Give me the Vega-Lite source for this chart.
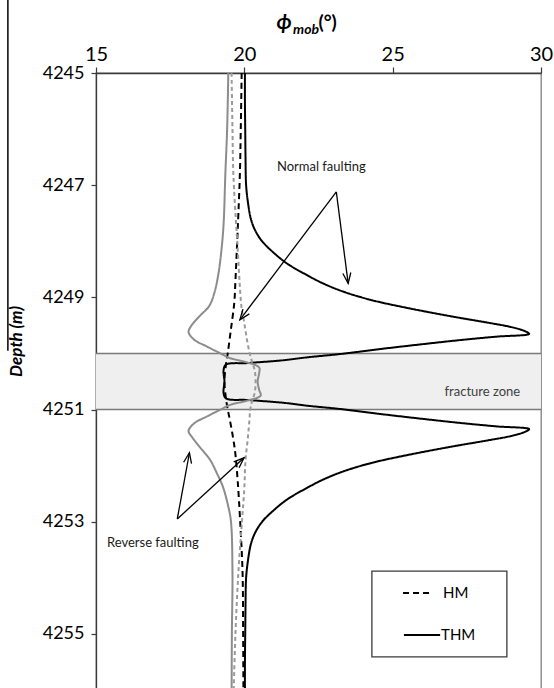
{
  "$schema": "https://vega.github.io/schema/vega-lite/v6.json",
  "autosize": {"type": "none"},
  "padding": {"left": 96, "top": 73, "right": 13, "bottom": 0},
  "width": 445,
  "height": 626,
  "background": "white",
  "config": {
    "font": "Lato",
    "view": {"stroke": "#7f7f7f", "strokeWidth": 1.3},
    "axis": {"grid": false}
  },
  "datasets": {
    "zone": [{"phi": 15, "phi2": 30, "depth": 4250, "depth2": 4251}],
    "zoneEdges": [{"phi": 15, "phi2": 30, "depth": 4250}, {"phi": 15, "phi2": 30, "depth": 4251}],
    "edge": [{"phi": 12.03, "depth": 4243.6, "depth2": 4249.95}],
    "profiles": [
      {"series": "THM-N", "depth": 4245, "phi": 20.02},
      {"series": "THM-N", "depth": 4245.5, "phi": 20.02},
      {"series": "THM-N", "depth": 4246, "phi": 20.03},
      {"series": "THM-N", "depth": 4246.5, "phi": 20.04},
      {"series": "THM-N", "depth": 4247, "phi": 20.06},
      {"series": "THM-N", "depth": 4247.3, "phi": 20.12},
      {"series": "THM-N", "depth": 4247.6, "phi": 20.22},
      {"series": "THM-N", "depth": 4247.8, "phi": 20.36},
      {"series": "THM-N", "depth": 4248, "phi": 20.6},
      {"series": "THM-N", "depth": 4248.2, "phi": 20.98},
      {"series": "THM-N", "depth": 4248.4, "phi": 21.45},
      {"series": "THM-N", "depth": 4248.6, "phi": 22.1},
      {"series": "THM-N", "depth": 4248.75, "phi": 22.65},
      {"series": "THM-N", "depth": 4248.9, "phi": 23.35},
      {"series": "THM-N", "depth": 4249.05, "phi": 24.3},
      {"series": "THM-N", "depth": 4249.2, "phi": 25.6},
      {"series": "THM-N", "depth": 4249.35, "phi": 27.1},
      {"series": "THM-N", "depth": 4249.45, "phi": 28.2},
      {"series": "THM-N", "depth": 4249.53, "phi": 29.0},
      {"series": "THM-N", "depth": 4249.6, "phi": 29.45},
      {"series": "THM-N", "depth": 4249.65, "phi": 29.6},
      {"series": "THM-N", "depth": 4249.7, "phi": 28.5},
      {"series": "THM-N", "depth": 4249.76, "phi": 27.3},
      {"series": "THM-N", "depth": 4249.83, "phi": 26.08},
      {"series": "THM-N", "depth": 4249.92, "phi": 24.6},
      {"series": "THM-N", "depth": 4250.01, "phi": 23.23},
      {"series": "THM-N", "depth": 4250.07, "phi": 22.1},
      {"series": "THM-N", "depth": 4250.12, "phi": 21.33},
      {"series": "THM-N", "depth": 4250.17, "phi": 20.14},
      {"series": "THM-N", "depth": 4250.2, "phi": 19.38},
      {"series": "THM-N", "depth": 4250.3, "phi": 19.3},
      {"series": "THM-N", "depth": 4250.5, "phi": 19.33},
      {"series": "THM-N", "depth": 4250.7, "phi": 19.3},
      {"series": "THM-N", "depth": 4250.8, "phi": 19.38},
      {"series": "THM-N", "depth": 4250.83, "phi": 20.14},
      {"series": "THM-N", "depth": 4250.88, "phi": 21.33},
      {"series": "THM-N", "depth": 4250.93, "phi": 22.1},
      {"series": "THM-N", "depth": 4250.99, "phi": 23.23},
      {"series": "THM-N", "depth": 4251.08, "phi": 24.6},
      {"series": "THM-N", "depth": 4251.17, "phi": 26.08},
      {"series": "THM-N", "depth": 4251.24, "phi": 27.3},
      {"series": "THM-N", "depth": 4251.3, "phi": 28.5},
      {"series": "THM-N", "depth": 4251.35, "phi": 29.6},
      {"series": "THM-N", "depth": 4251.4, "phi": 29.45},
      {"series": "THM-N", "depth": 4251.47, "phi": 29.0},
      {"series": "THM-N", "depth": 4251.55, "phi": 28.2},
      {"series": "THM-N", "depth": 4251.65, "phi": 27.1},
      {"series": "THM-N", "depth": 4251.8, "phi": 25.6},
      {"series": "THM-N", "depth": 4251.95, "phi": 24.3},
      {"series": "THM-N", "depth": 4252.1, "phi": 23.35},
      {"series": "THM-N", "depth": 4252.25, "phi": 22.65},
      {"series": "THM-N", "depth": 4252.4, "phi": 22.1},
      {"series": "THM-N", "depth": 4252.6, "phi": 21.45},
      {"series": "THM-N", "depth": 4252.8, "phi": 20.98},
      {"series": "THM-N", "depth": 4253, "phi": 20.6},
      {"series": "THM-N", "depth": 4253.2, "phi": 20.36},
      {"series": "THM-N", "depth": 4253.4, "phi": 20.22},
      {"series": "THM-N", "depth": 4253.7, "phi": 20.12},
      {"series": "THM-N", "depth": 4254, "phi": 20.06},
      {"series": "THM-N", "depth": 4254.5, "phi": 20.04},
      {"series": "THM-N", "depth": 4255, "phi": 20.03},
      {"series": "THM-N", "depth": 4255.5, "phi": 20.02},
      {"series": "THM-N", "depth": 4256.2, "phi": 20.02},

      {"series": "HM-N", "depth": 4245, "phi": 19.91},
      {"series": "HM-N", "depth": 4246, "phi": 19.88},
      {"series": "HM-N", "depth": 4246.8, "phi": 19.85},
      {"series": "HM-N", "depth": 4247.5, "phi": 19.8},
      {"series": "HM-N", "depth": 4248, "phi": 19.76},
      {"series": "HM-N", "depth": 4248.7, "phi": 19.7},
      {"series": "HM-N", "depth": 4249.1, "phi": 19.66},
      {"series": "HM-N", "depth": 4249.6, "phi": 19.54},
      {"series": "HM-N", "depth": 4250, "phi": 19.44},
      {"series": "HM-N", "depth": 4250.2, "phi": 19.38},
      {"series": "HM-N", "depth": 4250.5, "phi": 19.33},
      {"series": "HM-N", "depth": 4250.8, "phi": 19.38},
      {"series": "HM-N", "depth": 4251, "phi": 19.44},
      {"series": "HM-N", "depth": 4251.1, "phi": 19.48},
      {"series": "HM-N", "depth": 4251.5, "phi": 19.62},
      {"series": "HM-N", "depth": 4251.8, "phi": 19.7},
      {"series": "HM-N", "depth": 4252.3, "phi": 19.78},
      {"series": "HM-N", "depth": 4253, "phi": 19.86},
      {"series": "HM-N", "depth": 4253.9, "phi": 19.94},
      {"series": "HM-N", "depth": 4255, "phi": 19.96},
      {"series": "HM-N", "depth": 4256.2, "phi": 19.97},

      {"series": "HM-R", "depth": 4245, "phi": 19.57},
      {"series": "HM-R", "depth": 4246, "phi": 19.6},
      {"series": "HM-R", "depth": 4246.8, "phi": 19.63},
      {"series": "HM-R", "depth": 4248, "phi": 19.76},
      {"series": "HM-R", "depth": 4249.2, "phi": 19.91},
      {"series": "HM-R", "depth": 4249.4, "phi": 19.98},
      {"series": "HM-R", "depth": 4249.9, "phi": 20.14},
      {"series": "HM-R", "depth": 4250.15, "phi": 20.26},
      {"series": "HM-R", "depth": 4250.3, "phi": 20.35},
      {"series": "HM-R", "depth": 4250.5, "phi": 20.38},
      {"series": "HM-R", "depth": 4250.7, "phi": 20.35},
      {"series": "HM-R", "depth": 4250.85, "phi": 20.26},
      {"series": "HM-R", "depth": 4251, "phi": 20.2},
      {"series": "HM-R", "depth": 4251.2, "phi": 20.17},
      {"series": "HM-R", "depth": 4251.5, "phi": 20.12},
      {"series": "HM-R", "depth": 4251.9, "phi": 20.04},
      {"series": "HM-R", "depth": 4252.4, "phi": 20.0},
      {"series": "HM-R", "depth": 4253, "phi": 19.92},
      {"series": "HM-R", "depth": 4253.9, "phi": 19.8},
      {"series": "HM-R", "depth": 4255, "phi": 19.7},
      {"series": "HM-R", "depth": 4256.2, "phi": 19.63},

      {"series": "THM-R", "depth": 4245, "phi": 19.46},
      {"series": "THM-R", "depth": 4246, "phi": 19.42},
      {"series": "THM-R", "depth": 4246.8, "phi": 19.36},
      {"series": "THM-R", "depth": 4247.7, "phi": 19.3},
      {"series": "THM-R", "depth": 4248.2, "phi": 19.22},
      {"series": "THM-R", "depth": 4248.6, "phi": 19.12},
      {"series": "THM-R", "depth": 4248.9, "phi": 19.0},
      {"series": "THM-R", "depth": 4249.15, "phi": 18.82},
      {"series": "THM-R", "depth": 4249.33, "phi": 18.5},
      {"series": "THM-R", "depth": 4249.5, "phi": 18.22},
      {"series": "THM-R", "depth": 4249.62, "phi": 18.12},
      {"series": "THM-R", "depth": 4249.75, "phi": 18.3},
      {"series": "THM-R", "depth": 4249.88, "phi": 18.75},
      {"series": "THM-R", "depth": 4250, "phi": 19.2},
      {"series": "THM-R", "depth": 4250.08, "phi": 19.5},
      {"series": "THM-R", "depth": 4250.16, "phi": 20.1},
      {"series": "THM-R", "depth": 4250.25, "phi": 20.5},
      {"series": "THM-R", "depth": 4250.35, "phi": 20.5},
      {"series": "THM-R", "depth": 4250.5, "phi": 20.45},
      {"series": "THM-R", "depth": 4250.65, "phi": 20.5},
      {"series": "THM-R", "depth": 4250.75, "phi": 20.55},
      {"series": "THM-R", "depth": 4250.84, "phi": 20.1},
      {"series": "THM-R", "depth": 4250.92, "phi": 19.5},
      {"series": "THM-R", "depth": 4251, "phi": 19.2},
      {"series": "THM-R", "depth": 4251.12, "phi": 18.75},
      {"series": "THM-R", "depth": 4251.25, "phi": 18.3},
      {"series": "THM-R", "depth": 4251.38, "phi": 18.12},
      {"series": "THM-R", "depth": 4251.5, "phi": 18.25},
      {"series": "THM-R", "depth": 4251.67, "phi": 18.5},
      {"series": "THM-R", "depth": 4251.9, "phi": 18.85},
      {"series": "THM-R", "depth": 4252.13, "phi": 19.07},
      {"series": "THM-R", "depth": 4252.38, "phi": 19.28},
      {"series": "THM-R", "depth": 4252.73, "phi": 19.46},
      {"series": "THM-R", "depth": 4253, "phi": 19.55},
      {"series": "THM-R", "depth": 4253.9, "phi": 19.6},
      {"series": "THM-R", "depth": 4255, "phi": 19.58},
      {"series": "THM-R", "depth": 4256.2, "phi": 19.57}
    ],
    "arrows": [
      {"phi": 23.1, "depth": 4247.12, "phi2": 19.85, "depth2": 4249.4},
      {"phi": 23.1, "depth": 4247.12, "phi2": 23.5, "depth2": 4248.75},
      {"phi": 17.74, "depth": 4252.95, "phi2": 18.15, "depth2": 4251.77},
      {"phi": 17.74, "depth": 4252.95, "phi2": 19.99, "depth2": 4251.86}
    ],
    "notes": [
      {"kind": "annot", "label": "Normal faulting", "phi": 21.1, "depth": 4246.68},
      {"kind": "annot", "label": "Reverse faulting", "phi": 15.37, "depth": 4253.38},
      {"kind": "zone", "label": "fracture zone", "phi": 29.3, "depth": 4250.68},
      {"kind": "legend", "label": "HM", "phi": 26.7, "depth": 4254.27},
      {"kind": "legend", "label": "THM", "phi": 26.63, "depth": 4255.02}
    ],
    "titleParts": [
      {"part": "phi", "label": "ϕ", "phi": 21.34, "depth": 4244.11},
      {"part": "sub", "label": "mob", "phi": 22.08, "depth": 4244.24},
      {"part": "unit", "label": "(°)", "phi": 22.5, "depth": 4244.11}
    ],
    "legendBox": [{"phi": 24.3, "phi2": 28.85, "depth": 4253.88, "depth2": 4255.41}],
    "legendKeys": [
      {"model": "HM", "phi": 25.35, "phi2": 26.36, "depth": 4254.27},
      {"model": "THM", "phi": 25.38, "phi2": 26.6, "depth": 4255.02}
    ]
  },
  "encoding": {
    "x": {
      "field": "phi", "type": "quantitative",
      "scale": {"domain": [15, 30], "nice": false, "zero": false},
      "axis": {
        "orient": "top", "values": [15, 20, 25, 30], "title": null,
        "labelFontSize": 20, "labelColor": "#000000", "labelPadding": 3,
        "domainColor": "#3a3a3a", "domainWidth": 1.3,
        "tickColor": "#3a3a3a", "tickWidth": 1.2, "tickSize": 6, "labelFlush": false
      }
    },
    "y": {
      "field": "depth", "type": "quantitative",
      "scale": {"domain": [4245, 4256.16], "reverse": true, "nice": false, "zero": false},
      "axis": {
        "values": [4245, 4247, 4249, 4251, 4253, 4255], "format": "d",
        "title": "Depth (m)", "titleFontSize": 17, "titleFontWeight": "bold", "titleFontStyle": "italic",
        "titleColor": "#000000", "titleX": -80, "titleY": 268, "titleAngle": -90,
        "titleAlign": "center", "titleBaseline": "middle",
        "labelFontSize": 18, "labelColor": "#000000", "labelPadding": 7,
        "domainColor": "#3a3a3a", "domainWidth": 1.3,
        "tickColor": "#3a3a3a", "tickWidth": 1.2, "tickSize": 5, "labelFlush": false
      }
    }
  },
  "layer": [
    {
      "data": {"name": "zone"},
      "mark": {"type": "rect", "fill": "#efefef"},
      "encoding": {"x2": {"field": "phi2"}, "y2": {"field": "depth2"}}
    },
    {
      "data": {"name": "zoneEdges"},
      "mark": {"type": "rule", "stroke": "#7a7a7a", "strokeWidth": 1.5},
      "encoding": {"x2": {"field": "phi2"}}
    },
    {
      "data": {"name": "edge"},
      "mark": {"type": "rule", "stroke": "#000000", "strokeWidth": 1.5, "clip": false},
      "encoding": {"y2": {"field": "depth2"}}
    },
    {
      "data": {"name": "profiles"},
      "mark": {"type": "line", "clip": true, "strokeCap": "butt", "interpolate": "catmull-rom"},
      "encoding": {
        "order": {"field": "depth", "type": "quantitative"},
        "color": {
          "field": "series", "type": "nominal", "legend": null,
          "scale": {"domain": ["THM-N", "HM-N", "THM-R", "HM-R"], "range": ["#000000", "#000000", "#8c8c8c", "#9a9a9a"]}
        },
        "strokeDash": {
          "field": "series", "type": "nominal", "legend": null,
          "scale": {"domain": ["THM-N", "HM-N", "THM-R", "HM-R"], "range": [[1, 0], [6, 4], [1, 0], [4, 3]]}
        },
        "strokeWidth": {
          "field": "series", "type": "ordinal", "legend": null,
          "scale": {"domain": ["THM-N", "HM-N", "THM-R", "HM-R"], "range": [2, 2, 1.4, 1.2]}
        }
      }
    },
    {
      "data": {"name": "arrows"},
      "mark": {"type": "rule", "stroke": "#000000", "strokeWidth": 1.3},
      "encoding": {"x2": {"field": "phi2"}, "y2": {"field": "depth2"}}
    },
    {
      "data": {"name": "arrows"},
      "transform": [
        {"calculate": "atan2((datum.phi2 - datum.phi) * 29.67, -(datum.depth2 - datum.depth) * 56.1) * 180 / PI", "as": "ang"}
      ],
      "mark": {"type": "point", "shape": "M-1,2.6L0,0L1,2.6", "filled": false, "stroke": "#000000", "strokeWidth": 1.3, "size": 64, "opacity": 1},
      "encoding": {
        "x": {"field": "phi2", "type": "quantitative"},
        "y": {"field": "depth2", "type": "quantitative"},
        "angle": {"field": "ang", "type": "quantitative", "scale": null}
      }
    },
    {
      "data": {"name": "notes"},
      "transform": [{"filter": "datum.kind === 'annot'"}],
      "mark": {"type": "text", "align": "left", "baseline": "middle", "fontSize": 13, "color": "#1a1a1a"},
      "encoding": {"text": {"field": "label"}}
    },
    {
      "data": {"name": "notes"},
      "transform": [{"filter": "datum.kind === 'zone'"}],
      "mark": {"type": "text", "align": "right", "baseline": "middle", "fontSize": 13, "color": "#404040"},
      "encoding": {"text": {"field": "label"}}
    },
    {
      "data": {"name": "legendBox"},
      "mark": {"type": "rect", "fill": "#ffffff", "stroke": "#3a3a3a", "strokeWidth": 1.3},
      "encoding": {"x2": {"field": "phi2"}, "y2": {"field": "depth2"}}
    },
    {
      "data": {"name": "legendKeys"},
      "transform": [{"filter": "datum.model === 'HM'"}],
      "mark": {"type": "rule", "stroke": "#000000", "strokeWidth": 2, "strokeDash": [6, 4]},
      "encoding": {"x2": {"field": "phi2"}}
    },
    {
      "data": {"name": "legendKeys"},
      "transform": [{"filter": "datum.model === 'THM'"}],
      "mark": {"type": "rule", "stroke": "#000000", "strokeWidth": 2},
      "encoding": {"x2": {"field": "phi2"}}
    },
    {
      "data": {"name": "notes"},
      "transform": [{"filter": "datum.kind === 'legend'"}],
      "mark": {"type": "text", "align": "left", "baseline": "middle", "fontSize": 15, "color": "#000000"},
      "encoding": {"text": {"field": "label"}}
    },
    {
      "data": {"name": "titleParts"},
      "transform": [{"filter": "datum.part === 'phi'"}],
      "mark": {"type": "text", "align": "center", "baseline": "middle", "fontSize": 21, "fontWeight": "bold", "fontStyle": "italic", "color": "#000000", "clip": false},
      "encoding": {"text": {"field": "label"}}
    },
    {
      "data": {"name": "titleParts"},
      "transform": [{"filter": "datum.part === 'sub'"}],
      "mark": {"type": "text", "align": "center", "baseline": "middle", "fontSize": 14, "fontWeight": "bold", "fontStyle": "italic", "color": "#000000", "clip": false},
      "encoding": {"text": {"field": "label"}}
    },
    {
      "data": {"name": "titleParts"},
      "transform": [{"filter": "datum.part === 'unit'"}],
      "mark": {"type": "text", "align": "left", "baseline": "middle", "fontSize": 19, "fontWeight": "bold", "color": "#000000", "clip": false},
      "encoding": {"text": {"field": "label"}}
    }
  ]
}
